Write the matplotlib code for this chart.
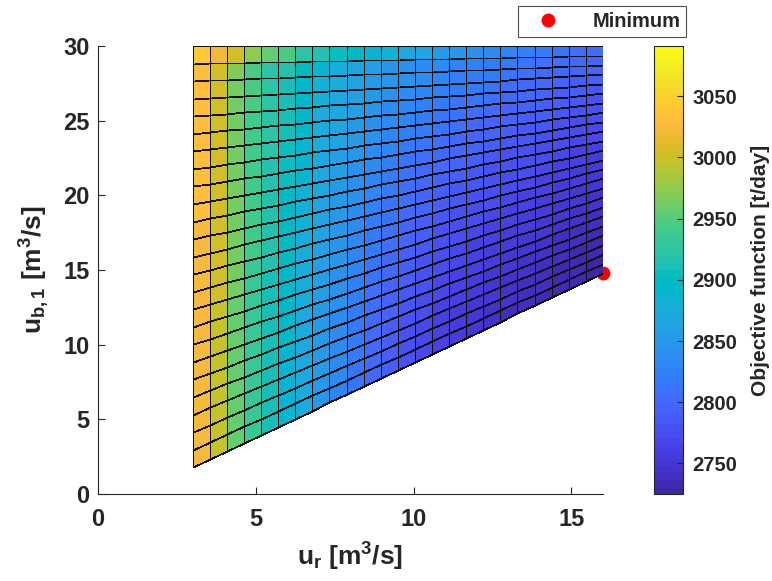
import numpy as np
import matplotlib

matplotlib.use("Agg")
import matplotlib.pyplot as plt
from matplotlib.colors import ListedColormap
from matplotlib.lines import Line2D

# MATLAB parula, 64 entries
PARULA = [
    [0.2422, 0.1504, 0.6603], [0.2504, 0.1650, 0.7076], [0.2578, 0.1818, 0.7511], [0.2647, 0.1978, 0.7952],
    [0.2706, 0.2147, 0.8364], [0.2751, 0.2342, 0.8710], [0.2783, 0.2559, 0.8991], [0.2803, 0.2782, 0.9221],
    [0.2813, 0.3006, 0.9414], [0.2810, 0.3228, 0.9579], [0.2795, 0.3447, 0.9717], [0.2760, 0.3667, 0.9829],
    [0.2699, 0.3892, 0.9906], [0.2602, 0.4123, 0.9952], [0.2440, 0.4358, 0.9988], [0.2206, 0.4603, 0.9973],
    [0.1963, 0.4847, 0.9892], [0.1834, 0.5074, 0.9798], [0.1786, 0.5289, 0.9682], [0.1764, 0.5499, 0.9520],
    [0.1687, 0.5703, 0.9359], [0.1540, 0.5902, 0.9218], [0.1460, 0.6091, 0.9079], [0.1380, 0.6276, 0.8973],
    [0.1248, 0.6459, 0.8883], [0.1113, 0.6635, 0.8763], [0.0952, 0.6798, 0.8598], [0.0689, 0.6948, 0.8394],
    [0.0297, 0.7082, 0.8163], [0.0036, 0.7203, 0.7917], [0.0067, 0.7312, 0.7660], [0.0433, 0.7411, 0.7394],
    [0.0964, 0.7500, 0.7120], [0.1408, 0.7584, 0.6842], [0.1717, 0.7670, 0.6554], [0.1938, 0.7758, 0.6251],
    [0.2161, 0.7843, 0.5923], [0.2470, 0.7918, 0.5567], [0.2906, 0.7973, 0.5188], [0.3406, 0.8008, 0.4789],
    [0.3909, 0.8029, 0.4354], [0.4456, 0.8024, 0.3909], [0.5044, 0.7993, 0.3480], [0.5616, 0.7942, 0.3045],
    [0.6174, 0.7876, 0.2612], [0.6720, 0.7793, 0.2227], [0.7242, 0.7698, 0.1910], [0.7738, 0.7598, 0.1646],
    [0.8203, 0.7498, 0.1535], [0.8634, 0.7406, 0.1596], [0.9035, 0.7330, 0.1774], [0.9393, 0.7288, 0.2100],
    [0.9728, 0.7298, 0.2394], [0.9956, 0.7434, 0.2371], [0.9970, 0.7659, 0.2199], [0.9952, 0.7893, 0.2028],
    [0.9892, 0.8136, 0.1885], [0.9786, 0.8386, 0.1766], [0.9676, 0.8639, 0.1643], [0.9610, 0.8890, 0.1537],
    [0.9597, 0.9135, 0.1423], [0.9628, 0.9373, 0.1265], [0.9691, 0.9606, 0.1064], [0.9769, 0.9839, 0.0805],
]

# grid of the sweep: u_r from 3 to 16, u_b1 from (u_r - 1.2) up to 30
ur_min, ur_max = 3.0, 16.0
ub_max = 30.0
ub_offset = 1.2
n_nodes = 25

# objective per cell [t/day], top row first, left column first
objective_rows = [
    [3042, 3018, 3002, 2975, 2957, 2943, 2925, 2917, 2905, 2897, 2890, 2880, 2872, 2864, 2856, 2848, 2841, 2835, 2829, 2824, 2819, 2814, 2810, 2806],
    [3030, 3004, 2966, 2944, 2925, 2915, 2898, 2886, 2877, 2867, 2858, 2850, 2844, 2838, 2834, 2830, 2826, 2822, 2818, 2814, 2810, 2806, 2802, 2799],
    [3030, 3004, 2965, 2943, 2924, 2913, 2896, 2884, 2874, 2864, 2854, 2846, 2840, 2834, 2829, 2825, 2821, 2817, 2813, 2809, 2805, 2801, 2798, 2795],
    [3030, 3003, 2965, 2943, 2923, 2912, 2894, 2882, 2872, 2861, 2851, 2842, 2836, 2829, 2825, 2821, 2817, 2813, 2809, 2805, 2801, 2797, 2793, 2790],
    [3029, 3003, 2964, 2942, 2922, 2910, 2892, 2879, 2869, 2857, 2847, 2838, 2832, 2825, 2820, 2816, 2812, 2808, 2804, 2800, 2796, 2792, 2789, 2786],
    [3029, 3003, 2964, 2941, 2921, 2908, 2891, 2877, 2866, 2854, 2844, 2835, 2828, 2821, 2816, 2812, 2807, 2803, 2799, 2796, 2792, 2788, 2785, 2782],
    [3029, 3002, 2963, 2940, 2920, 2907, 2889, 2875, 2864, 2851, 2840, 2831, 2824, 2817, 2812, 2807, 2803, 2799, 2795, 2791, 2788, 2784, 2780, 2778],
    [3029, 3002, 2963, 2940, 2919, 2905, 2887, 2873, 2861, 2848, 2837, 2828, 2820, 2813, 2808, 2803, 2799, 2795, 2791, 2787, 2783, 2780, 2776, 2774],
    [3029, 3002, 2962, 2939, 2918, 2904, 2886, 2871, 2859, 2845, 2834, 2824, 2816, 2809, 2804, 2799, 2794, 2790, 2786, 2783, 2779, 2776, 2773, 2770],
    [3029, 3001, 2962, 2938, 2917, 2902, 2884, 2869, 2856, 2843, 2831, 2821, 2813, 2805, 2800, 2795, 2790, 2786, 2782, 2779, 2775, 2772, 2769, 2766],
    [3028, 3001, 2961, 2938, 2916, 2901, 2882, 2867, 2854, 2840, 2828, 2818, 2809, 2802, 2796, 2791, 2786, 2782, 2778, 2775, 2771, 2768, 2765, 2763],
    [3028, 3001, 2961, 2937, 2915, 2900, 2881, 2865, 2852, 2837, 2825, 2815, 2806, 2798, 2792, 2787, 2783, 2779, 2775, 2771, 2768, 2764, 2761, 2759],
    [3028, 3000, 2960, 2937, 2914, 2898, 2879, 2864, 2850, 2835, 2822, 2811, 2802, 2795, 2789, 2783, 2779, 2775, 2771, 2767, 2764, 2761, 2758, 2756],
    [3028, 3000, 2960, 2936, 2914, 2897, 2878, 2862, 2848, 2832, 2819, 2809, 2799, 2791, 2785, 2780, 2775, 2771, 2767, 2764, 2760, 2757, 2755, 2752],
    [3028, 3000, 2960, 2935, 2913, 2896, 2877, 2860, 2846, 2830, 2817, 2806, 2796, 2788, 2782, 2776, 2772, 2768, 2764, 2760, 2757, 2754, 2751, 2749],
    [3028, 2999, 2959, 2935, 2912, 2895, 2875, 2859, 2844, 2828, 2814, 2803, 2793, 2785, 2779, 2773, 2768, 2764, 2760, 2757, 2754, 2751, 2748, 2746],
    [3028, 2999, 2959, 2934, 2911, 2893, 2874, 2857, 2842, 2825, 2812, 2800, 2790, 2782, 2776, 2770, 2765, 2761, 2757, 2754, 2751, 2748, 2745, 2743],
    [3027, 2999, 2958, 2934, 2911, 2892, 2873, 2856, 2840, 2823, 2809, 2798, 2788, 2779, 2773, 2767, 2762, 2758, 2754, 2751, 2748, 2745, 2743, 2740],
    [3027, 2999, 2958, 2934, 2910, 2891, 2872, 2855, 2839, 2822, 2807, 2796, 2785, 2777, 2770, 2764, 2760, 2756, 2752, 2748, 2745, 2742, 2740, 2738],
    [3027, 2999, 2958, 2933, 2910, 2890, 2871, 2853, 2837, 2820, 2805, 2794, 2783, 2774, 2768, 2762, 2757, 2753, 2749, 2746, 2743, 2740, 2738, 2735],
    [3027, 2998, 2958, 2933, 2909, 2890, 2870, 2852, 2836, 2818, 2804, 2792, 2781, 2772, 2765, 2760, 2755, 2751, 2747, 2744, 2741, 2737, 2735, 2733],
    [3027, 2998, 2957, 2932, 2909, 2889, 2869, 2851, 2835, 2817, 2802, 2790, 2779, 2770, 2764, 2758, 2753, 2749, 2745, 2742, 2739, 2736, 2733, 2731],
    [3027, 2998, 2957, 2932, 2908, 2888, 2868, 2850, 2834, 2816, 2801, 2789, 2778, 2769, 2762, 2756, 2751, 2747, 2743, 2740, 2737, 2734, 2732, 2730],
    [3027, 2998, 2957, 2932, 2908, 2888, 2868, 2850, 2833, 2815, 2800, 2788, 2777, 2768, 2761, 2755, 2750, 2746, 2742, 2739, 2736, 2733, 2731, 2729],
]

minimum_ur = 16.0
minimum_ub = 14.8

color_limits = (2725, 3091)
cbar_ticks = [2750, 2800, 2850, 2900, 2950, 3000, 3050]

TEXT = "#262626"

plt.rcParams["font.family"] = ["Liberation Sans", "DejaVu Sans"]
plt.rcParams["font.weight"] = "bold"
plt.rcParams["mathtext.fontset"] = "custom"
plt.rcParams["mathtext.rm"] = "Liberation Sans:bold"
plt.rcParams["mathtext.it"] = "Liberation Sans:bold"
plt.rcParams["mathtext.bf"] = "Liberation Sans:bold"
plt.rcParams["text.color"] = TEXT
plt.rcParams["axes.labelcolor"] = TEXT

ur = np.linspace(ur_min, ur_max, n_nodes)
X = np.tile(ur, (n_nodes, 1))
Y = np.array([np.linspace(u - ub_offset, ub_max, n_nodes) for u in ur]).T
C = np.array(objective_rows[::-1], dtype=float)

fig = plt.figure(figsize=(7.72, 5.81), dpi=100)
ax = fig.add_axes([0.127, 0.1497, 0.654, 0.771])
cax = fig.add_axes([0.847, 0.1497, 0.0376, 0.771])

cmap = ListedColormap(PARULA, name="parula")
mesh = ax.pcolormesh(X, Y, C, cmap=cmap, vmin=color_limits[0], vmax=color_limits[1],
                     shading="flat", edgecolors="#111111", linewidth=0.55, zorder=2)

ax.plot([minimum_ur], [minimum_ub], "o", color="red", markersize=9, zorder=1, clip_on=False)

ax.set_xlim(0, 16)
ax.set_ylim(0, 30)
ax.set_xticks([0, 5, 10, 15])
ax.set_yticks([0, 5, 10, 15, 20, 25, 30])
for side in ("top", "right"):
    ax.spines[side].set_visible(False)
for side in ("left", "bottom"):
    ax.spines[side].set_color(TEXT)
    ax.spines[side].set_linewidth(0.8)
ax.tick_params(direction="in", length=5, width=0.8, labelsize=17, colors=TEXT)
ax.tick_params(axis="x", pad=10)
ax.tick_params(axis="y", pad=6)

ax.set_xlabel(r"$u_r$ [m$^3$/s]", fontsize=19, fontweight="bold", labelpad=7)
ax.set_ylabel(r"$u_{b,1}$ [m$^3$/s]", fontsize=19, fontweight="bold", labelpad=8)

cb = fig.colorbar(mesh, cax=cax)
cb.set_ticks(cbar_ticks)
cb.outline.set_edgecolor(TEXT)
cb.outline.set_linewidth(0.8)
cax.tick_params(direction="in", length=4, width=0.8, labelsize=14.5, colors=TEXT, pad=7)
cb.set_label("Objective function [t/day]", fontsize=15, fontweight="bold", labelpad=10)

handle = Line2D([], [], marker="o", color="red", linestyle="none", markersize=9)
leg = fig.legend([handle], ["Minimum"], loc="upper right", bbox_to_anchor=(0.889, 0.99),
                 frameon=True, fancybox=False, fontsize=14.5, handlelength=2.4,
                 borderpad=0.3, handletextpad=1.0, borderaxespad=0)
leg.get_frame().set_edgecolor(TEXT)
leg.get_frame().set_linewidth(0.8)

fig.savefig("out.png", dpi=100)
